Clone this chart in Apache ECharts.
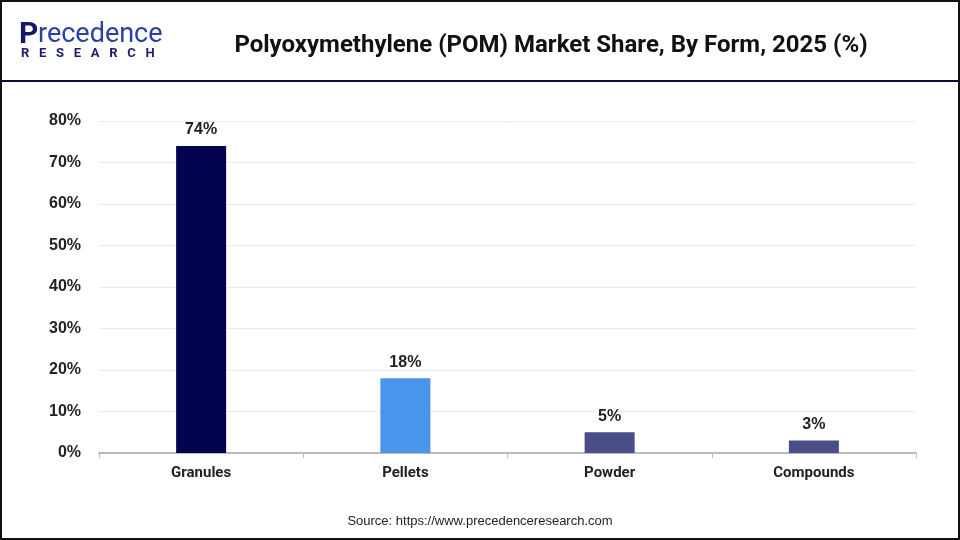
<!DOCTYPE html>
<html>
<head>
<meta charset="utf-8">
<script src="https://cdn.jsdelivr.net/npm/echarts@6/dist/echarts.min.js"></script>
<style>
  html, body { margin: 0; padding: 0; background: #fff; }
  #main { width: 960px; height: 540px; box-sizing: border-box; border: 2px solid #111; }
</style>
</head>
<body>
<div id="main"></div>
<script>
var categories = ['Granules', 'Pellets', 'Powder', 'Compounds'];
var shares = [74, 18, 5, 3];
var barColors = ['#02024f', '#4a94ec', '#494e89', '#494e89'];

var chart = echarts.init(document.getElementById('main'));

var option = {
    backgroundColor: '#fff',
    animation: false,
    title: {
        text: 'Polyoxymethylene (POM) Market Share, By Form, 2025 (%)',
        left: 544,
        top: 27,
        textAlign: 'center',
        textStyle: { fontFamily: 'Roboto', fontWeight: 'bold', fontSize: 24, color: '#111' }
    },
    graphic: [
        // logo
        { type: 'text', left: 17, top: 18, style: { text: 'P', fontFamily: 'Roboto', fontSize: 30, fontWeight: 'bold', fill: '#16196b' } },
        { type: 'text', left: 36, top: 20, style: { text: 'recedence', fontFamily: 'Roboto', fontSize: 27, fill: '#2a3fa8' } },
        { type: 'text', left: 19, top: 45, style: { text: 'R   E   S   E   A   R   C   H', fontFamily: 'Roboto', fontWeight: 'bold', fontSize: 13, fill: '#1b1f6e' } },
        // header separator
        { type: 'rect', shape: { x: 0, y: 78, width: 960, height: 2 }, style: { fill: '#0b0b3c' } },
        // source
        { type: 'text', left: 'center', top: 513, style: { text: 'Source: https://www.precedenceresearch.com', fontFamily: 'Liberation Sans', fontSize: 13, fill: '#222' } }
    ],
    grid: { left: 97, right: 42, top: 119, bottom: 85 },
    xAxis: {
        type: 'category',
        data: categories,
        axisLine: { lineStyle: { color: '#bbb', width: 2 } },
        axisTick: { show: true, lineStyle: { color: '#bbb' }, length: 5 },
        axisLabel: { margin: 13, fontFamily: 'Roboto', fontWeight: 'bold', fontSize: 15, color: '#222' }
    },
    yAxis: {
        type: 'value',
        min: 0,
        max: 80,
        interval: 10,
        axisLine: { show: false },
        axisTick: { show: false },
        splitLine: { lineStyle: { color: '#ececec' } },
        axisLabel: { margin: 18, fontFamily: 'Liberation Sans', fontWeight: 'bold', fontSize: 16, color: '#222', formatter: '{value}%' }
    },
    series: [{
        type: 'bar',
        data: shares.map(function (v, i) { return { value: v, itemStyle: { color: barColors[i] } }; }),
        barWidth: 50,
        label: {
            show: true,
            position: 'top',
            distance: 8,
            formatter: '{c}%',
            fontFamily: 'Liberation Sans',
            fontWeight: 'bold',
            fontSize: 16,
            color: '#222'
        }
    }]
};
chart.setOption(option);
</script>
</body>
</html>
